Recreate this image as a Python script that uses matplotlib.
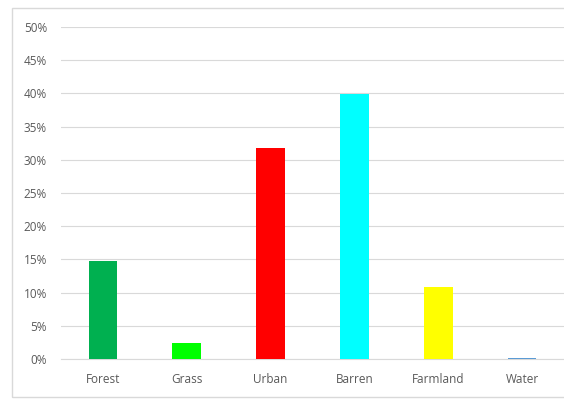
import matplotlib
matplotlib.use("Agg")
import matplotlib.pyplot as plt
from matplotlib.patches import Rectangle
from matplotlib.ticker import PercentFormatter

categories = ["Forest", "Grass", "Urban", "Barren", "Farmland", "Water"]
shares = [14.8, 2.4, 31.8, 39.9, 10.8, 0.2]
colors = ["#00B050", "#00FF00", "#FF0000", "#00FFFF", "#FFFF00", "#5B9BD5"]

plt.rcParams["font.family"] = ["Open Sans", "DejaVu Sans"]

fig = plt.figure(figsize=(5.64, 3.99), dpi=100)
ax = fig.add_axes([61 / 564, 1 - 359 / 399, 503 / 564, 332 / 399])

# Excel-style chart frame
fig.patches.append(
    Rectangle((12 / 564, 2 / 399), 560 / 564, 389 / 399, transform=fig.transFigure,
              fill=False, edgecolor="#D9D9D9", linewidth=1)
)

x = range(len(categories))
ax.bar(x, shares, width=0.34, color=colors, zorder=3)

ax.set_xlim(-0.5, len(categories) - 0.5)
ax.set_ylim(0, 50)
ax.set_yticks(range(0, 51, 5))
ax.yaxis.set_major_formatter(PercentFormatter(decimals=0))
ax.set_xticks(list(x))
ax.set_xticklabels(categories)

ax.grid(axis="y", color="#D9D9D9", linewidth=0.8, zorder=0)
for side in ["top", "right", "left"]:
    ax.spines[side].set_visible(False)
ax.spines["bottom"].set_color("#D9D9D9")
ax.tick_params(axis="both", length=0, labelsize=8.5, labelcolor="#595959")
ax.tick_params(axis="y", pad=10)
ax.tick_params(axis="x", pad=10)

fig.savefig("out.png", dpi=100)
